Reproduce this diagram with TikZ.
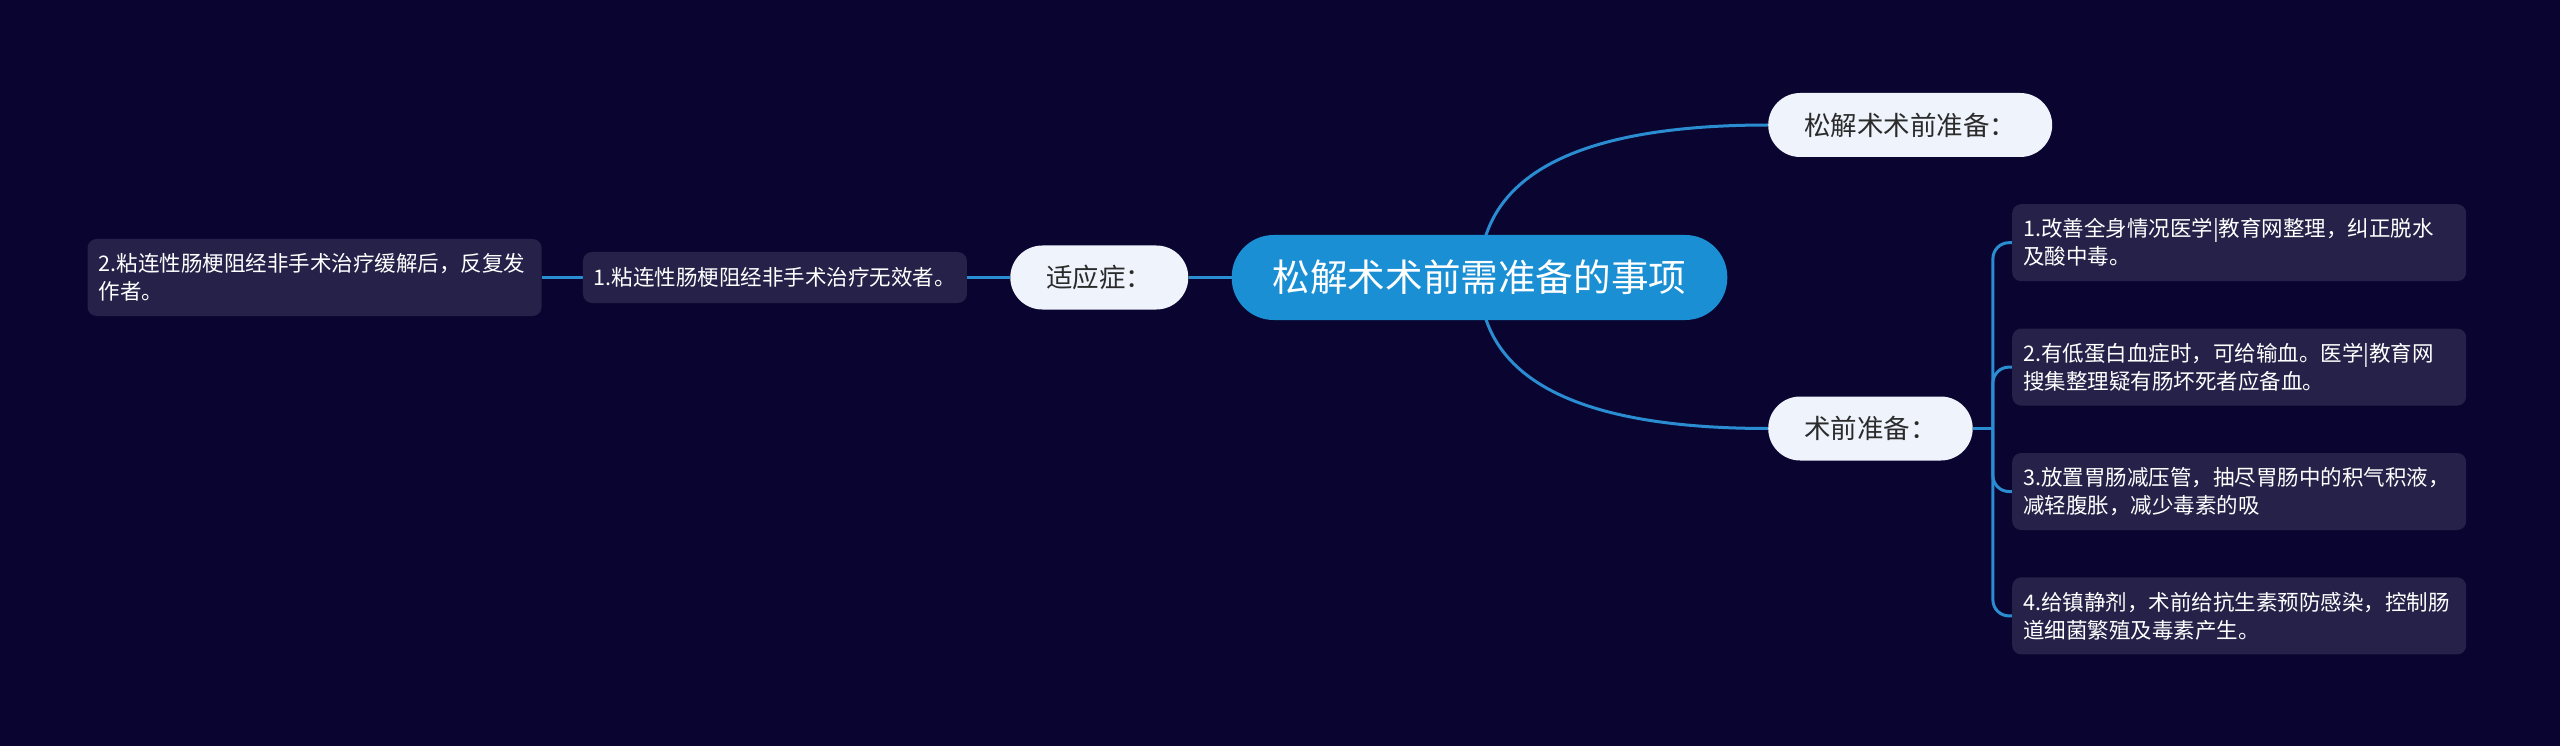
\documentclass[tikz,border=0pt]{standalone}
\usepackage{fontspec}
\newfontfamily\cjk{Noto Sans CJK SC}
\usepackage{xcolor}
\usetikzlibrary{positioning, calc}
\definecolor{bgcol}{HTML}{0A0530}
\definecolor{rootcol}{HTML}{1A8FD3}
\definecolor{pillcol}{HTML}{EEF3FC}
\definecolor{pilltext}{HTML}{2B2B2B}
\definecolor{leafcol}{HTML}{252148}
\definecolor{linecol}{HTML}{2A8DD2}
\pgfdeclarelayer{bg}
\pgfdeclarelayer{edges}
\pgfsetlayers{bg,edges,main}
\tikzstyle{rootbox} = [rectangle, rounded corners=42pt, minimum height=85pt, inner xsep=41pt, fill=rootcol, text=white, font=\cjk\fontsize{37.6}{38}\selectfont]
\tikzstyle{topic} = [rectangle, rounded corners=32pt, minimum height=64pt, inner xsep=36pt, fill=pillcol, text=pilltext, font=\cjk\fontsize{26.5}{27}\selectfont]
\tikzstyle{leaf} = [rectangle, rounded corners=9pt, inner xsep=11pt, inner ysep=4pt, fill=leafcol, text=white, align=left, font=\cjk\fontsize{21.5}{28}\selectfont]
\tikzstyle{leafwide} = [leaf, minimum height=77pt, text width=432pt]
\tikzstyle{link} = [draw=linecol, line width=3pt]
\begin{document}
\begin{tikzpicture}[x=1pt, y=-1pt, node distance=47pt]

\begin{pgfonlayer}{bg}
\fill [bgcol] (0,0) rectangle (2560,746);
\end{pgfonlayer}
\useasboundingbox (0,0) rectangle (2560,746);

\node (root) [rootbox] at (1479.5,277.5) {松解术术前需准备的事项};
\node (zhunbei) [topic, anchor=west] at (1768,125) {松解术术前准备：};
\node (shuqian) [topic, anchor=west] at (1768,428.5) {术前准备：};
\node (shiying) [topic, left=43pt of root] {适应症：};
\node (left1) [leaf, minimum height=51pt, left=43pt of shiying] {1.粘连性肠梗阻经非手术治疗无效者。};
\node (left2) [leafwide, left=41pt of left1] {2.粘连性肠梗阻经非手术治疗缓解后，反复发\\作者。};
\node (item1) [leafwide, anchor=north west] at (2012,204) {1.改善全身情况医学|教育网整理，纠正脱水\\及酸中毒。};
\node (item2) [leafwide, below=of item1] {2.有低蛋白血症时，可给输血。医学|教育网\\搜集整理疑有肠坏死者应备血。};
\node (item3) [leafwide, below=of item2] {3.放置胃肠减压管，抽尽胃肠中的积气积液，\\减轻腹胀，减少毒素的吸};
\node (item4) [leafwide, below=of item3] {4.给镇静剂，术前给抗生素预防感染，控制肠\\道细菌繁殖及毒素产生。};

\begin{pgfonlayer}{edges}
\coordinate (c1) at (root.center |- zhunbei.west);
\coordinate (c2) at (root.center |- shuqian.west);
\draw [link] (root.center) .. controls ($(root.center)!.667!(c1)$) and ($(zhunbei.west)!.667!(c1)$) .. (zhunbei.west);
\draw [link] (root.center) .. controls ($(root.center)!.667!(c2)$) and ($(shuqian.west)!.667!(c2)$) .. (shuqian.west);
\draw [link] (root.west) -- (shiying.east);
\draw [link] (shiying.west) -- (left1.east);
\draw [link] (left1.west) -- (left2.east);
\coordinate (fork) at ($(shuqian.east)+(20,0)$);
\draw [link] (shuqian.east) -- (fork);
\foreach \i in {1,...,4}
  \draw [link, rounded corners=16pt] (fork) |- (item\i.west);
\end{pgfonlayer}

\end{tikzpicture}
\end{document}
